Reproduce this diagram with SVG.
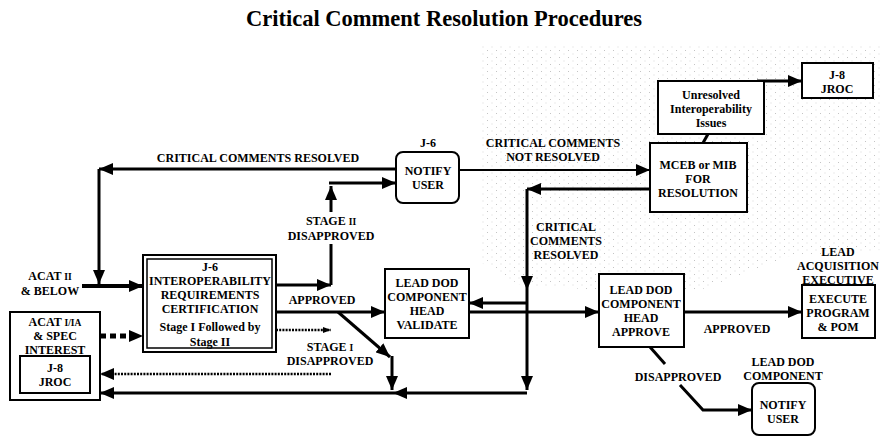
<svg xmlns="http://www.w3.org/2000/svg" width="888" height="436" viewBox="0 0 888 436">
<style>
text{font-family:"Liberation Serif","DejaVu Serif",serif;font-weight:bold;font-size:12px;text-anchor:middle;fill:#000}
.title{font-size:22.5px}
.sc{font-size:9.5px}
.box{fill:#fff;stroke:#000;stroke-width:2}
.ln{fill:none;stroke:#000;stroke-width:3}
.thin{fill:none;stroke:#000;stroke-width:2}
.dot{fill:none;stroke:#000;stroke-width:2.5;stroke-dasharray:2,1.2}
.dash{fill:none;stroke:#000;stroke-width:5;stroke-dasharray:6,4}
</style>
<defs>
<marker id="ah" markerUnits="userSpaceOnUse" markerWidth="14" markerHeight="12" refX="14" refY="6" orient="auto"><path d="M0,0 L14,6 L0,12 z" fill="#000"/></marker>
<marker id="ahs" markerUnits="userSpaceOnUse" markerWidth="8" markerHeight="6" refX="8" refY="3" orient="auto"><path d="M0,0 L8,3 L0,6 z" fill="#000"/></marker>
<pattern id="stip" width="9" height="7" patternUnits="userSpaceOnUse"><rect x="1" y="1" width="1" height="1" fill="#c4c4c4"/><rect x="5.5" y="4.5" width="1" height="1" fill="#d6d6d6"/></pattern>
</defs>
<rect width="888" height="436" fill="#fff"/>
<polygon points="480,45 882,45 882,250 790,256 700,290 600,290 520,285 480,262" fill="url(#stip)"/>
<text class="title" x="444" y="26">Critical Comment Resolution Procedures</text>

<g id="connectors">
<path class="ln" d="M396,169 H99" marker-end="url(#ah)"/>
<path class="ln" d="M99,169 V284" marker-end="url(#ah)"/>
<path fill="none" stroke="#000" stroke-width="4" d="M82,286 H143" marker-end="url(#ah)"/>
<path class="dash" d="M100,336 H131"/>
<path d="M129,330 L143,336 L129,342 z" fill="#000"/>
<path class="ln" d="M276,285 H331" marker-end="url(#ah)"/>
<path class="ln" d="M331,285 V186" marker-end="url(#ah)"/>
<path class="ln" d="M329,183 H396" marker-end="url(#ah)"/>
<rect x="290" y="212" width="82" height="32" fill="#fff"/>
<text x="331" y="225">STAGE <tspan class="sc">II</tspan></text>
<text x="331" y="240">DISAPPROVED</text>
<path class="ln" d="M276,312 H385" marker-end="url(#ah)"/>
<text x="322" y="304">APPROVED</text>
<path class="ln" d="M338,312 L390,357" marker-end="url(#ah)"/>
<path class="ln" d="M392,356 V390" marker-end="url(#ah)"/>
<path class="dot" d="M276,330 H331" marker-end="url(#ahs)"/>
<path class="dot" d="M331,374 H100" marker-end="url(#ah)"/>
<text x="330" y="351">STAGE <tspan class="sc">I</tspan></text>
<text x="330" y="365">DISAPPROVED</text>
<path class="ln" d="M527,393 H393" marker-end="url(#ah)"/>
<path class="ln" d="M393,393 H100" marker-end="url(#ah)"/>
<text x="258" y="162">CRITICAL COMMENTS RESOLVED</text>
<path class="thin" d="M459,170 H650" marker-end="url(#ah)"/>
<text x="553" y="147">CRITICAL COMMENTS</text>
<text x="553" y="161">NOT RESOLVED</text>
<path class="ln" d="M650,189 H527" marker-end="url(#ah)"/>
<path class="ln" d="M527,189 V290" marker-end="url(#ah)"/>
<path class="ln" d="M527,290 V390" marker-end="url(#ah)"/>
<text x="566" y="231">CRITICAL</text>
<text x="566" y="245">COMMENTS</text>
<text x="566" y="259">RESOLVED</text>
<path class="ln" d="M527,303 H469" marker-end="url(#ah)"/>
<path class="ln" d="M469,312 H599" marker-end="url(#ah)"/>
<path class="ln" d="M684,312 H802" marker-end="url(#ah)"/>
<text x="737" y="333">APPROVED</text>
<path class="ln" d="M650,347 L665,364"/>
<text x="678" y="381">DISAPPROVED</text>
<path class="ln" d="M680,385 L703,410 H752" marker-end="url(#ah)"/>
<path class="ln" d="M708,134 L703,143"/>
<path class="ln" d="M757,81 H802" marker-end="url(#ah)"/>
</g>

<g id="acat2">
<text x="50" y="280">ACAT <tspan class="sc">II</tspan></text>
<text x="50" y="295">&amp; BELOW</text>
</g>

<g id="j6cert">
<rect class="box" x="143" y="255" width="133" height="97"/>
<rect fill="none" stroke="#000" stroke-width="1.5" x="147" y="259" width="125" height="89"/>
<text x="210" y="271">J-6</text>
<text x="210" y="285">INTEROPERABILITY</text>
<text x="210" y="299">REQUIREMENTS</text>
<text x="210" y="313">CERTIFICATION</text>
<text x="210" y="331">Stage I Followed by</text>
<text x="210" y="346">Stage II</text>
</g>

<g id="acat1">
<rect class="box" x="10" y="312" width="90" height="88"/>
<text x="55" y="326">ACAT <tspan class="sc">I/IA</tspan></text>
<text x="55" y="340">&amp; SPEC</text>
<text x="55" y="354">INTEREST</text>
<rect class="box" x="20" y="356" width="70" height="37"/>
<text x="55" y="372">J-8</text>
<text x="55" y="386">JROC</text>
</g>

<g id="j6notify">
<text x="428" y="147">J-6</text>
<rect class="box" x="396" y="152" width="63" height="51" rx="7"/>
<text x="428" y="175">NOTIFY</text>
<text x="428" y="189">USER</text>
</g>

<g id="mceb">
<rect class="box" x="650" y="143" width="97" height="69"/>
<text x="698" y="169">MCEB or MIB</text>
<text x="698" y="183">FOR</text>
<text x="698" y="197">RESOLUTION</text>
</g>

<g id="unresolved">
<rect class="box" x="658" y="81" width="106" height="53"/>
<text x="711" y="99">Unresolved</text>
<text x="711" y="113">Interoperability</text>
<text x="711" y="127">Issues</text>
</g>

<g id="j8top">
<rect class="box" x="802" y="63" width="71" height="35"/>
<text x="837" y="79">J-8</text>
<text x="837" y="93">JROC</text>
</g>

<g id="validate">
<rect class="box" x="385" y="269" width="84" height="69"/>
<text x="427" y="287">LEAD DOD</text>
<text x="427" y="301">COMPONENT</text>
<text x="427" y="315">HEAD</text>
<text x="427" y="329">VALIDATE</text>
</g>

<g id="approve">
<rect class="box" x="599" y="274" width="85" height="73"/>
<text x="641" y="294">LEAD DOD</text>
<text x="641" y="308">COMPONENT</text>
<text x="641" y="322">HEAD</text>
<text x="641" y="336">APPROVE</text>
</g>

<g id="execute">
<text x="838" y="256">LEAD</text>
<text x="838" y="270">ACQUISITION</text>
<text x="838" y="284">EXECUTIVE</text>
<rect class="box" x="802" y="285" width="73" height="53"/>
<text x="838" y="303">EXECUTE</text>
<text x="838" y="317">PROGRAM</text>
<text x="838" y="331">&amp; POM</text>
</g>

<g id="leadnotify">
<text x="783" y="366">LEAD DOD</text>
<text x="783" y="380">COMPONENT</text>
<rect class="box" x="752" y="383" width="63" height="52" rx="7"/>
<text x="783" y="409">NOTIFY</text>
<text x="783" y="423">USER</text>
</g>
</svg>
